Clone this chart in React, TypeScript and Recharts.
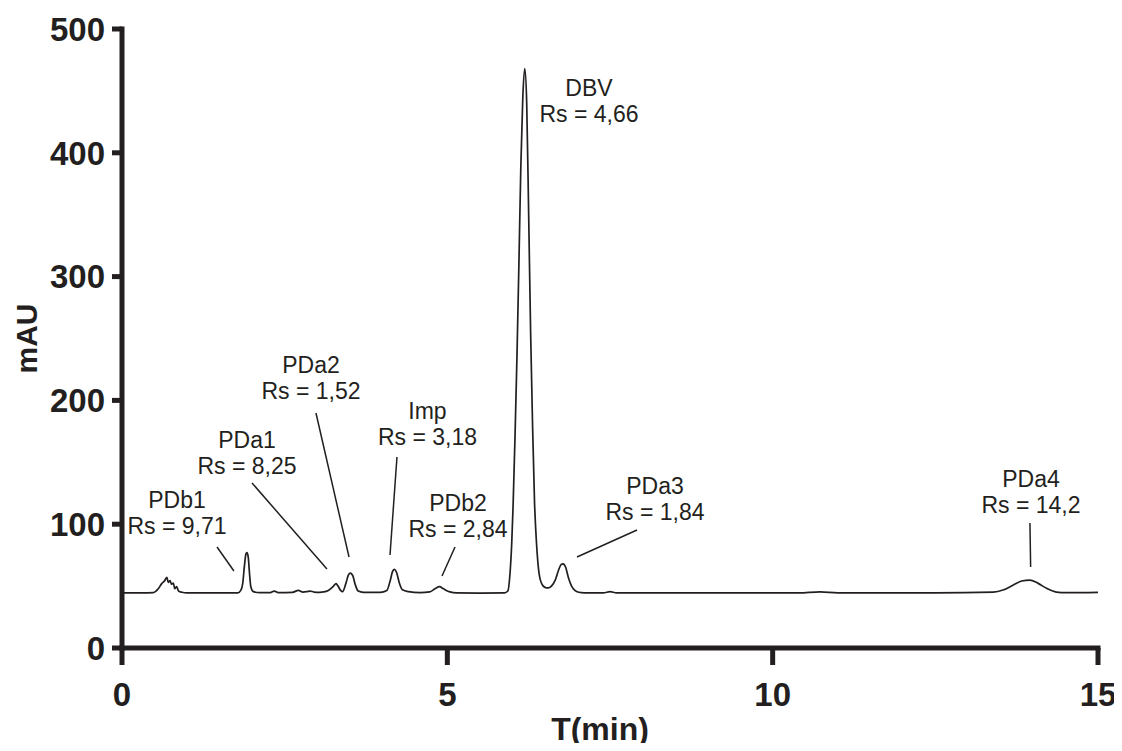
import { LineChart, Line, XAxis, YAxis, ReferenceLine, ReferenceDot } from "recharts";

// chromatogram trace (min, mAU)
const retentionTime = [
  0, 0.3, 0.48, 0.56, 0.61, 0.65, 0.69, 0.71, 0.74, 0.76, 0.79, 0.81, 0.84, 0.87, 0.92, 1.0,
  1.4, 1.78, 1.83, 1.855, 1.88, 1.905, 1.92, 1.94, 1.96, 1.98, 2.02, 2.12,
  2.28, 2.34, 2.4, 2.62, 2.71, 2.78, 2.84, 2.89, 2.95, 3.04, 3.1,
  3.17, 3.25, 3.29, 3.32, 3.36, 3.39, 3.44, 3.48, 3.51, 3.55, 3.58, 3.63, 3.71,
  3.97, 4.07, 4.12, 4.16, 4.19, 4.22, 4.26, 4.31, 4.4, 4.58,
  4.73, 4.81, 4.88, 4.94, 5.04, 5.14, 5.5,
  5.88, 5.93, 5.96, 5.99, 6.01, 6.04, 6.07, 6.1, 6.13, 6.16, 6.19, 6.22, 6.25, 6.28, 6.31,
  6.34, 6.37, 6.41, 6.45, 6.5, 6.55,
  6.6, 6.66, 6.71, 6.75, 6.78, 6.82, 6.86, 6.91, 6.96, 7.02, 7.1,
  7.4, 7.5, 7.6, 8.5, 10.4, 10.73, 11.0, 12.5,
  13.39, 13.54, 13.7, 13.83, 13.95, 14.08, 14.21, 14.36, 14.52, 15.0,
];
const absorbance = [
  44.5, 44.5, 44.7, 48, 52, 54, 57, 53, 54.5, 51.5, 52.5, 48, 49.5, 46, 45, 44.5,
  44.5, 44.6, 47, 52, 65.5, 76, 77, 73.5, 60, 49.5, 45.5, 44.7,
  44.8, 46, 44.8, 45, 46.5, 45.2, 45.5, 46, 45.2, 45, 45.3,
  46.5, 50, 52, 50, 46.5, 45.5, 52, 59, 60.5, 58, 52, 46, 45,
  45, 46.5, 54, 62, 63.5, 61, 53, 47, 45.5, 44.7,
  45.3, 47.8, 49.5, 47.8, 45.3, 44.5, 44.4,
  44.5, 46, 58, 85, 114, 170, 235, 310, 390, 445, 468, 440, 350, 255, 180,
  118, 85, 60, 52, 49, 48.5,
  50, 55, 63, 67.5, 68, 65, 57, 50, 46.5, 45, 44.6,
  44.6, 45.5, 44.6, 44.5, 44.5, 45.4, 44.6, 44.6,
  45.2, 46.8, 50.9, 54.1, 54.9, 52.2, 48.2, 45.2, 44.7, 45,
];

const xTicks = [0, 5, 10, 15];
const yTicks = [0, 100, 200, 300, 400, 500];

// peak annotations (label centre and leader line in data units)
const peakNames = ["PDb1", "PDa1", "PDa2", "Imp", "PDb2", "DBV", "PDa3", "PDa4"];
const resolutions = ["9,71", "8,25", "1,52", "3,18", "2,84", "4,66", "1,84", "14,2"];
const labelTimes = [0.845, 1.921, 2.905, 4.695, 5.164, 7.177, 8.191, 13.97];
const labelLevels = [109, 157.9, 217.7, 181.3, 106.6, 442.2, 120, 126];
const leaderFrom = [
  [1.46, 81.6], [1.998, 133.3], [2.981, 189.8], [4.226, 154.3],
  [5.118, 81.6], null, [7.915, 95.3], [13.954, 101],
];
const leaderTo = [
  [1.72, 62.2], [3.15, 63.8], [3.489, 73.5], [4.119, 75.1],
  [4.918, 58.2], null, [6.993, 73.5], [13.965, 65.4],
];

const INK = "#231f20";
const FONT = "'Liberation Sans', Arial, Helvetica, sans-serif";

const data = retentionTime.map((t, i) => ({ t, mAU: absorbance[i] }));

function PeakLabel({ cx, cy, name, rs }: any) {
  return (
    <text textAnchor="middle" fontFamily={FONT} fontSize={23} fill={INK}>
      <tspan x={cx} y={cy - 5}>{name}</tspan>
      <tspan x={cx} y={cy + 21}>{`Rs = ${rs}`}</tspan>
    </text>
  );
}

export default function App() {
  return (
    <div style={{ width: 1106, height: 735 }}>
      <style>{".recharts-surface{overflow:visible}"}</style>
      <LineChart
        width={1106}
        height={735}
        data={data}
        margin={{ top: 21, right: 16, bottom: 0, left: 0 }}
      >
        <XAxis
          dataKey="t"
          type="number"
          domain={[0, 15]}
          ticks={xTicks}
          interval={0}
          height={95}
          tickSize={17}
          tickMargin={18}
          axisLine={{ stroke: INK, strokeWidth: 5, strokeLinecap: "square" }}
          tickLine={{ stroke: INK, strokeWidth: 5 }}
          tick={{ fill: INK, fontSize: 33, fontWeight: 700, fontFamily: FONT }}
          label={{
            content: ({ viewBox }: any) => {
              const vb = viewBox ?? { x: 114, y: 640, width: 976, height: 95 };
              return (
                <text
                  x={vb.x + vb.width / 2 - 10}
                  y={vb.y + 92}
                  textAnchor="middle"
                  fontFamily={FONT}
                  fontSize={32}
                  fontWeight={700}
                  fill={INK}
                >
                  T(min)
                </text>
              );
            },
          }}
        />
        <YAxis
          type="number"
          domain={[0, 500]}
          ticks={yTicks}
          interval={0}
          width={114}
          tickSize={10}
          tickMargin={7}
          axisLine={{ stroke: INK, strokeWidth: 5, strokeLinecap: "square" }}
          tickLine={{ stroke: INK, strokeWidth: 5 }}
          tick={{ fill: INK, fontSize: 33, fontWeight: 700, fontFamily: FONT }}
          label={{
            content: ({ viewBox }: any) => {
              const vb = viewBox ?? { x: 0, y: 21, width: 114, height: 619 };
              const cx = vb.x + 29;
              const cy = vb.y + vb.height / 2;
              return (
                <text
                  transform={`translate(${cx},${cy}) rotate(-90)`}
                  textAnchor="middle"
                  fontFamily={FONT}
                  fontSize={30}
                  fontWeight={700}
                  fill={INK}
                >
                  mAU
                </text>
              );
            },
          }}
        />
        <Line
          type="monotone"
          dataKey="mAU"
          stroke={INK}
          strokeWidth={1.7}
          dot={false}
          activeDot={false}
          isAnimationActive={false}
        />
        {peakNames.map((name, i) => {
          const from = leaderFrom[i];
          const to = leaderTo[i];
          if (!from || !to) return null;
          return (
            <ReferenceLine
              key={`lead-${name}`}
              segment={[
                { x: from[0], y: from[1] },
                { x: to[0], y: to[1] },
              ]}
              stroke={INK}
              strokeWidth={1.5}
            />
          );
        })}
        {peakNames.map((name, i) => (
          <ReferenceDot
            key={`lab-${name}`}
            x={labelTimes[i]}
            y={labelLevels[i]}
            r={0}
            shape={(p: any) => <PeakLabel {...p} name={name} rs={resolutions[i]} />}
          />
        ))}
      </LineChart>
    </div>
  );
}
